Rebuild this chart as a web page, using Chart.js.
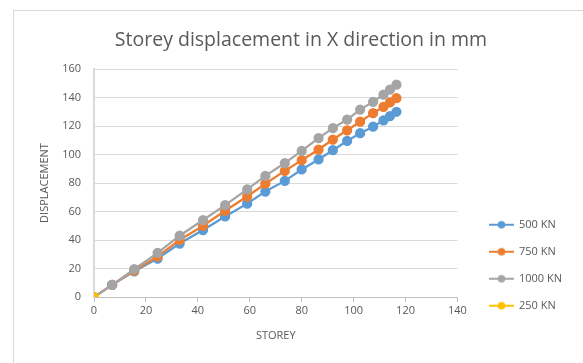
<!DOCTYPE html>
<html>
<head>
<meta charset="utf-8">
<script src="https://cdn.jsdelivr.net/npm/chart.js@4/dist/chart.umd.min.js"></script>
<style>
  html, body { margin: 0; padding: 0; background: #fff; }
  #wrap { position: relative; width: 583px; height: 363px; overflow: hidden; }
  #frame { position: absolute; left: 13px; top: 10px; width: 600px; height: 400px; border: 1px solid #d9d9d9; }
  #chart { position: absolute; left: 0; top: 0; }
</style>
</head>
<body>
<div id="wrap">
  <div id="frame"></div>
  <canvas id="chart" width="583" height="363"></canvas>
</div>
<script>
// Storey displacement data
var storey = [0, 7, 15.5, 24.5, 33, 42, 50.5, 59, 66, 73.5, 80, 86.5, 92, 97.5, 102.5, 107.5, 111.5, 114, 116.5];
var disp500 = [0, 8.5, 18, 27, 37.5, 47, 56.5, 65.5, 74, 81.5, 89.5, 96.5, 103, 109.5, 115, 119.5, 124, 127, 130];
var disp750 = [0, 8.5, 18.5, 28.5, 40, 50, 60.5, 70.5, 79.5, 88.5, 96, 103.5, 110.5, 117, 123, 129, 133.5, 136.5, 139.5];
var disp1000 = [0, 8.5, 19.5, 31, 43, 54, 64.5, 75.5, 85, 94, 102.5, 111.5, 118.5, 124.5, 131.5, 137, 142, 145.5, 149];
var storey250 = [0];
var disp250 = [0];

var seriesNames = ["500 KN", "750 KN", "1000 KN", "250 KN"];
var seriesColors = ["#5b9bd5", "#ed7d31", "#a5a5a5", "#ffc000"];

var txt = "#595959";
var font = "'Open Sans', sans-serif";

function pts(xs, ys) {
  return xs.map(function (x, i) { return { x: x, y: ys[i] }; });
}

// legend sample: line with a dot in the middle
function legendIcon(color) {
  var c = document.createElement("canvas");
  c.width = 41; c.height = 10;
  var g = c.getContext("2d");
  g.strokeStyle = color; g.lineWidth = 2;
  g.beginPath(); g.moveTo(16, 5); g.lineTo(41, 5); g.stroke();
  g.fillStyle = color;
  g.beginPath(); g.arc(28.5, 5, 3.8, 0, Math.PI * 2); g.fill();
  return c;
}
var icons = seriesColors.map(legendIcon);

function ds(i, data, order) {
  return {
    label: seriesNames[i],
    data: data,
    borderColor: seriesColors[i],
    backgroundColor: seriesColors[i],
    borderWidth: 2.25,
    pointRadius: 4,
    pointHoverRadius: 4,
    tension: 0,
    order: order
  };
}

var ctx = document.getElementById("chart");
new Chart(ctx.getContext("2d"), {
  type: "line",
  data: {
    datasets: [
      ds(0, pts(storey, disp500), 3),
      ds(1, pts(storey, disp750), 2),
      ds(2, pts(storey, disp1000), 1),
      ds(3, pts(storey250, disp250), 0)
    ]
  },
  options: {
    responsive: false,
    animation: false,
    layout: { padding: { left: 30, right: 11, top: 0, bottom: 20 } },
    plugins: {
      tooltip: { enabled: false },
      title: {
        display: true,
        text: "Storey displacement in X direction in mm",
        color: txt,
        font: { family: font, size: 19.5, weight: "normal" },
        padding: { top: 28.3, bottom: 17.3 }
      },
      legend: {
        position: "right",
        align: "start",
        title: { display: true, text: " ", padding: { top: 190, bottom: 0 }, font: { size: 11 } },
        labels: {
          usePointStyle: true,
          pointStyleWidth: 40,
          padding: 16,
          color: txt,
          font: { family: font, size: 11 },
          sort: function (a, b) { return a.datasetIndex - b.datasetIndex; },
          generateLabels: function (chart) {
            var items = Chart.defaults.plugins.legend.labels.generateLabels(chart);
            items.forEach(function (it) { it.pointStyle = icons[it.datasetIndex]; });
            return items;
          }
        }
      }
    },
    scales: {
      x: {
        type: "linear",
        min: 0, max: 140,
        ticks: { stepSize: 20, color: txt, font: { family: font, size: 11 }, padding: 2 },
        grid: { drawOnChartArea: false, drawTicks: true, tickLength: 5, color: "#bfbfbf" },
        border: { color: "#bfbfbf", width: 1 },
        title: { display: true, text: "STOREY", color: txt, font: { family: font, size: 11 }, padding: { top: 4, bottom: 1 } },
        afterFit: function (s) { s.height = 46; }
      },
      y: {
        min: 0, max: 160,
        ticks: { stepSize: 20, color: txt, font: { family: font, size: 11 }, padding: 13 },
        grid: { color: "#d9d9d9", drawTicks: false },
        border: { color: "#d9d9d9", width: 2 },
        title: { display: true, text: "DISPLACEMENT", color: txt, font: { family: font, size: 11 }, padding: { top: 8, bottom: 0 } },
        afterFit: function (s) { s.width = 64; }
      }
    }
  }
});
</script>
</body>
</html>
